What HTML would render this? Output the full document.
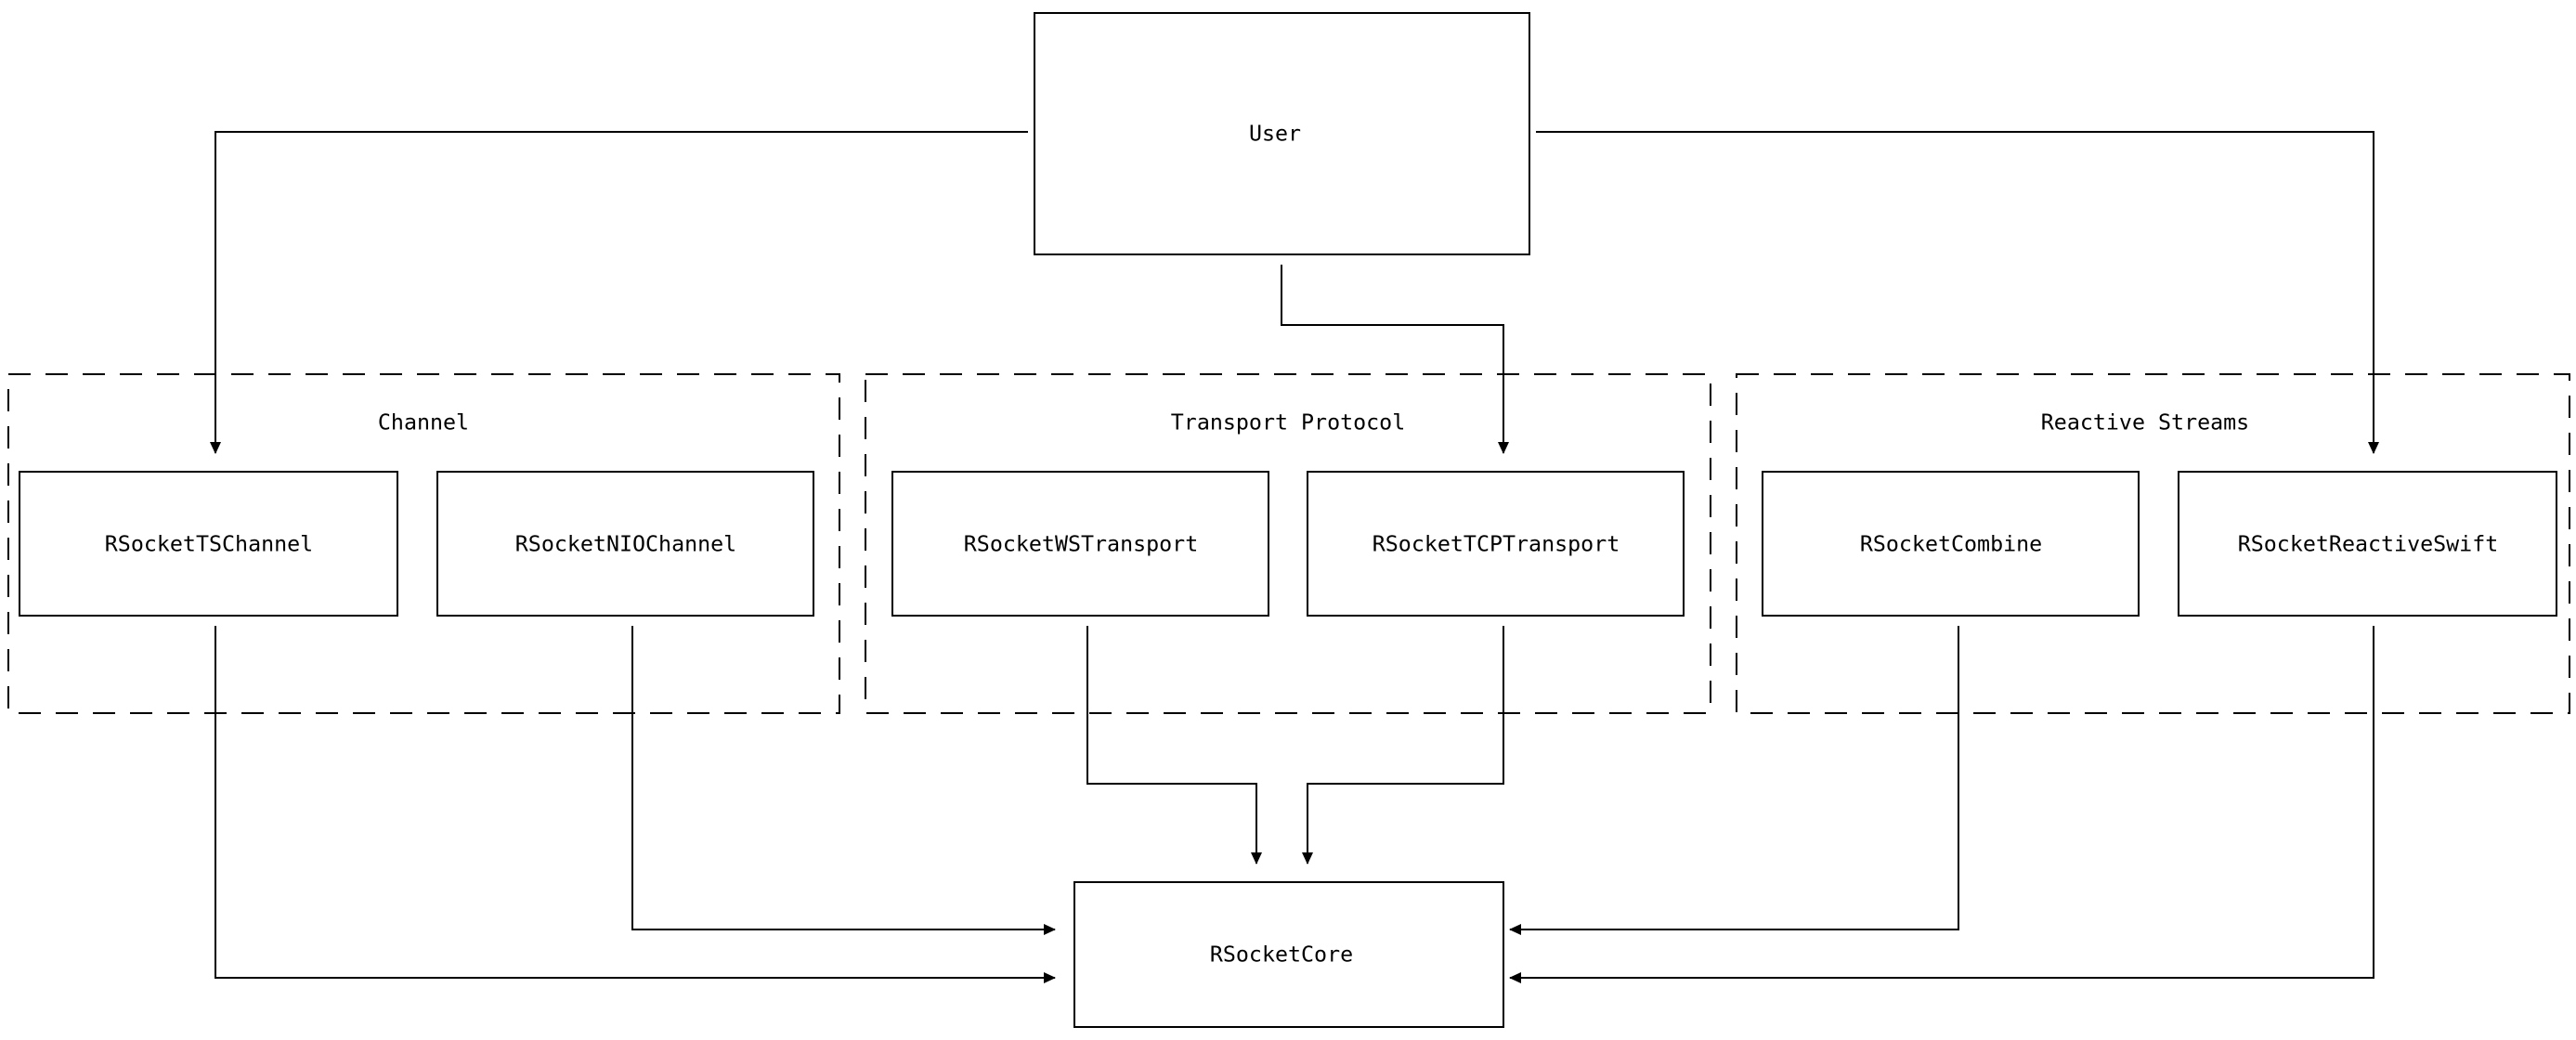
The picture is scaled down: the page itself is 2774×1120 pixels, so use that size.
<!DOCTYPE html>
<html><head><meta charset="utf-8"><style>
html,body{margin:0;padding:0;background:#fff;}
svg{display:block;}
text{font-family:"DejaVu Sans Mono","Liberation Mono",monospace;font-size:23.3px;fill:#000;}
</style></head><body>
<svg width="2774" height="1120" viewBox="0 0 2774 1120" xmlns="http://www.w3.org/2000/svg">
<defs>
<marker id="a" markerWidth="14" markerHeight="14" refX="12" refY="7" orient="auto" markerUnits="userSpaceOnUse">
<path d="M0,1 L13,7 L0,13 Z" fill="#000"/>
</marker>
</defs>
<g fill="none" stroke="#000" stroke-width="2">
<rect x="9" y="403" width="895" height="365" stroke-dasharray="24 16"/>
<rect x="932" y="403" width="910" height="365" stroke-dasharray="24 16"/>
<rect x="1870" y="403" width="897" height="365" stroke-dasharray="24 16"/>
<rect x="1114" y="14" width="533" height="260"/>
<rect x="21" y="508" width="407" height="155"/>
<rect x="471" y="508" width="405" height="155"/>
<rect x="961" y="508" width="405" height="155"/>
<rect x="1408" y="508" width="405" height="155"/>
<rect x="1898" y="508" width="405" height="155"/>
<rect x="2346" y="508" width="407" height="155"/>
<rect x="1157" y="950" width="462" height="156"/>
<polyline points="1107,142 232,142 232,488" marker-end="url(#a)"/>
<polyline points="1654,142 2556,142 2556,488" marker-end="url(#a)"/>
<polyline points="1380,285 1380,350 1619,350 1619,488" marker-end="url(#a)"/>
<polyline points="232,674 232,1053 1136,1053" marker-end="url(#a)"/>
<polyline points="681,674 681,1001 1136,1001" marker-end="url(#a)"/>
<polyline points="1171,674 1171,844 1353,844 1353,930" marker-end="url(#a)"/>
<polyline points="1619,674 1619,844 1408,844 1408,930" marker-end="url(#a)"/>
<polyline points="2109,674 2109,1001 1626,1001" marker-end="url(#a)"/>
<polyline points="2556,674 2556,1053 1626,1053" marker-end="url(#a)"/>
</g>
<g text-anchor="middle" dominant-baseline="central">
<text x="1373" y="144">User</text>
<text x="456" y="455">Channel</text>
<text x="1387" y="455">Transport Protocol</text>
<text x="2310" y="455">Reactive Streams</text>
<text x="225" y="586">RSocketTSChannel</text>
<text x="674" y="586">RSocketNIOChannel</text>
<text x="1164" y="586">RSocketWSTransport</text>
<text x="1611" y="586">RSocketTCPTransport</text>
<text x="2101" y="586">RSocketCombine</text>
<text x="2550" y="586">RSocketReactiveSwift</text>
<text x="1380" y="1028">RSocketCore</text>
</g>
</svg>
</body></html>
